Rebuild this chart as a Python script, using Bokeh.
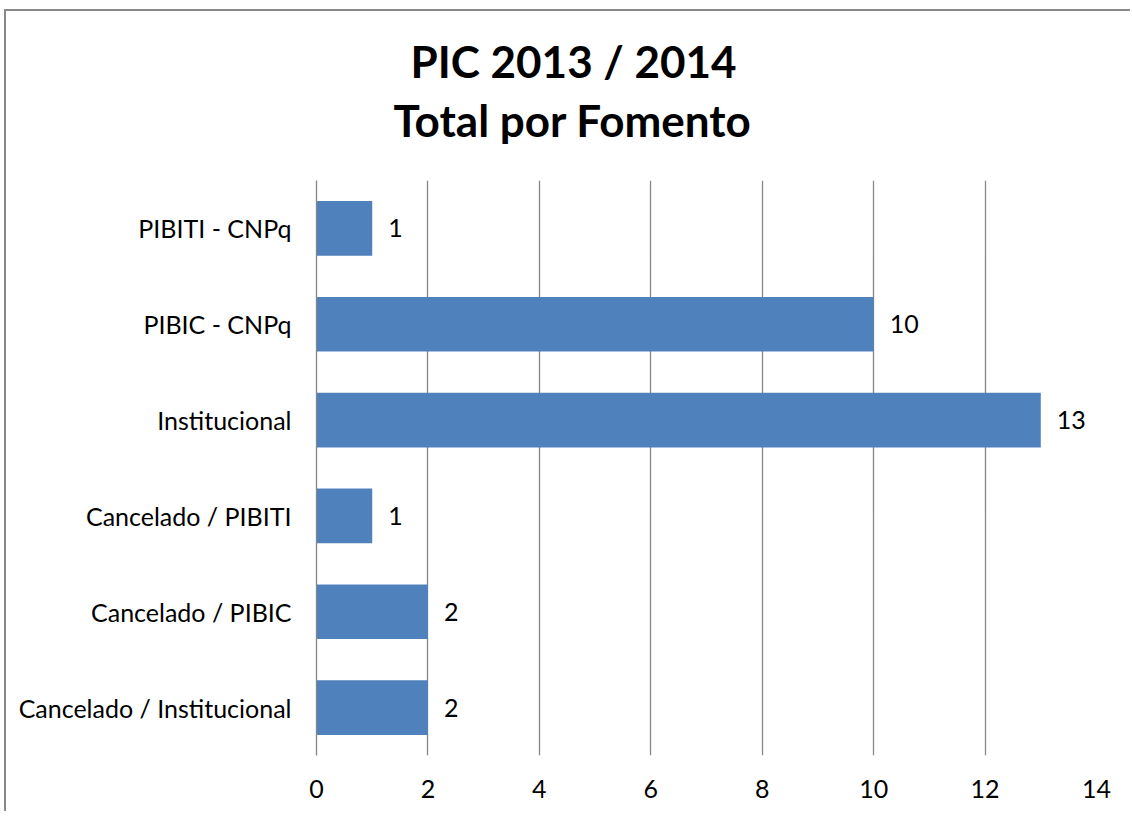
from bokeh.plotting import figure
from bokeh.models import Range1d, FactorRange, Title, ColumnDataSource, FixedTicker
from bokeh.core.properties import value
from bokeh.embed import file_html
from bokeh.resources import INLINE

categories = ["PIBITI - CNPq", "PIBIC - CNPq", "Institucional",
              "Cancelado / PIBITI", "Cancelado / PIBIC", "Cancelado / Institucional"]
totals = [1, 10, 13, 1, 2, 2]
x_ticks = [0, 2, 4, 6, 8, 10, 12, 14]
title_line1 = "PIC 2013 / 2014"
title_line2 = "Total por Fomento"

FONT = "Lato"
BAR = "#4F81BD"
GRID = "#868686"
LBL = "25px"

src = ColumnDataSource(dict(cat=categories, val=totals, lab=[str(v) for v in totals]))

p = figure(width=1126, height=802, output_backend="svg", toolbar_location=None,
           x_range=Range1d(0, 14), y_range=FactorRange(factors=list(reversed(categories)), range_padding=0),
           min_border_left=310, min_border_right=36, min_border_top=169, min_border_bottom=58,
           styles={"border-top": "2px solid #898989", "border-left": "2px solid #898989",
                   "margin-left": "4px", "margin-top": "9px"})
p.title = None

p.hbar(y="cat", right="val", left=0, height=0.57, source=src, fill_color=BAR, line_color=None)
p.text(x="val", y="cat", text="lab", source=src, x_offset=16, text_align="left", text_baseline="middle",
       text_font=value(FONT), text_font_size=LBL, text_color="#000000")

p.outline_line_color = None
p.ygrid.grid_line_color = None
p.xgrid.grid_line_color = GRID
p.xgrid.grid_line_width = 1.3
p.xgrid.ticker = FixedTicker(ticks=x_ticks)

p.xaxis.ticker = FixedTicker(ticks=x_ticks)
p.xaxis.axis_line_color = None
p.xaxis.major_tick_line_color = None
p.xaxis.minor_tick_line_color = None
p.xaxis.major_label_standoff = 18
p.xaxis.major_label_text_font = FONT
p.xaxis.major_label_text_font_size = LBL
p.xaxis.major_label_text_color = "#000000"

p.yaxis.axis_line_color = GRID
p.yaxis.axis_line_width = 1.3
p.yaxis.major_tick_line_color = None
p.yaxis.minor_tick_line_color = None
p.yaxis.major_label_standoff = 19
p.yaxis.major_label_text_font = FONT
p.yaxis.major_label_text_font_size = LBL
p.yaxis.major_label_text_color = "#000000"

spacer = Title(text=" ", text_font_size="1px", standoff=32)
t2 = Title(text=title_line2, align="left", offset=77, text_font=FONT, text_font_size="44px",
           text_font_style="bold", text_color="#000000", standoff=0)
t1 = Title(text=title_line1, align="left", offset=94, text_font=FONT, text_font_size="44px",
           text_font_style="bold", text_color="#000000", standoff=10)
p.add_layout(spacer, "above")
p.add_layout(t2, "above")
p.add_layout(t1, "above")

open("out.html", "w").write(file_html(p, INLINE))
